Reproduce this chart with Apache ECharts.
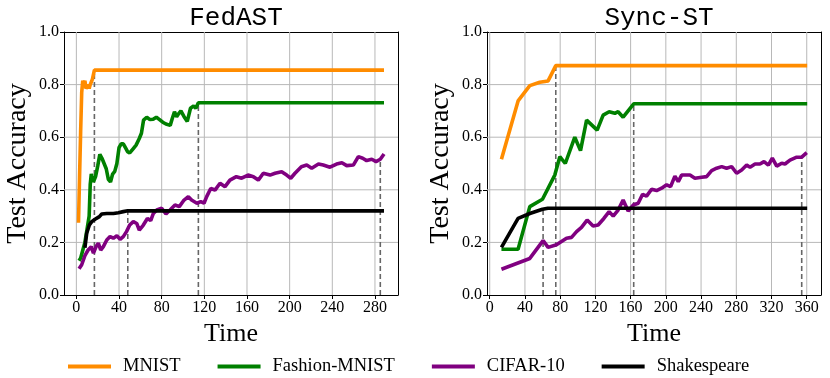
<!DOCTYPE html>
<html>
<head>
<meta charset="utf-8">
<script src="https://cdn.jsdelivr.net/npm/echarts@6.0.0/dist/echarts.min.js"></script>
<style>
html,body{margin:0;padding:0;background:#fff;}
#chart{width:830px;height:378px;}
</style>
</head>
<body>
<div id="chart"></div>
<script>
// ---------- data ----------
const panelTitles = ['FedAST', 'Sync-ST'];
const seriesNames = ['MNIST', 'Fashion-MNIST', 'CIFAR-10', 'Shakespeare'];
const seriesColors = ['#ff8c00', '#008000', '#800080', '#000000'];
const xTicksLeft = [0, 40, 80, 120, 160, 200, 240, 280];
const xTicksRight = [0, 40, 80, 120, 160, 200, 240, 280, 320, 360];
const yTicks = [0, 0.2, 0.4, 0.6, 0.8, 1.0];

// FedAST panel: [time, accuracy]
const fedMnist = [[2,0.275],[3,0.45],[4,0.62],[5,0.77],[6,0.815],[7,0.80],[8,0.815],[9,0.785],[10,0.79],[11,0.80],[12,0.785],[13,0.80],[14,0.81],[15,0.82],[16,0.825],[16.9,0.855],[288.5,0.855]];
const fedFashion = [[2.5,0.13],[4,0.14],[6,0.17],[8,0.2],[10,0.25],[12,0.30],[13,0.42],[14,0.46],[16,0.43],[18,0.45],[20,0.49],[22,0.535],[24,0.52],[26,0.50],[28,0.48],[30,0.44],[32,0.43],[34,0.46],[36,0.47],[38,0.50],[40,0.56],[42,0.575],[44,0.575],[46,0.56],[48,0.545],[50,0.54],[53,0.555],[56,0.57],[59,0.595],[61,0.615],[63,0.665],[66,0.676],[69,0.667],[72,0.668],[75,0.676],[78,0.667],[81,0.657],[84,0.65],[88,0.645],[90,0.672],[92,0.697],[94,0.678],[96,0.69],[98,0.70],[101,0.678],[104,0.66],[107,0.71],[110,0.719],[112,0.71],[114.4,0.731],[288.5,0.731]];
const fedCifar = [[2.5,0.10],[5,0.115],[8,0.15],[11,0.171],[14,0.184],[16,0.159],[18.5,0.184],[20.6,0.197],[22.8,0.171],[25.3,0.184],[28.5,0.209],[31.6,0.222],[34.7,0.216],[38,0.225],[41,0.212],[44,0.222],[47,0.241],[50,0.266],[53.4,0.279],[56.6,0.272],[59,0.247],[62.8,0.266],[66.6,0.291],[69.7,0.283],[72.2,0.31],[75.4,0.323],[80,0.33],[84,0.308],[87.8,0.323],[92.5,0.342],[96.5,0.336],[101,0.361],[105,0.374],[108,0.361],[113,0.349],[116.6,0.355],[119.7,0.349],[122.2,0.374],[126,0.405],[130,0.399],[134.7,0.425],[139.4,0.412],[144,0.437],[150,0.45],[155,0.444],[161,0.456],[166,0.45],[170.6,0.437],[175.3,0.463],[181.6,0.456],[186.3,0.463],[192.5,0.469],[197.2,0.456],[201,0.444],[205,0.463],[211,0.488],[216,0.494],[220.7,0.482],[227,0.498],[231.5,0.494],[237.8,0.486],[244,0.498],[249,0.503],[253.5,0.492],[259.7,0.494],[264.4,0.526],[268.5,0.52],[272.2,0.511],[277,0.516],[281,0.507],[285,0.516],[288.5,0.536]];
const fedShakespeare = [[8,0.18],[9.7,0.235],[12.2,0.266],[14.4,0.279],[17.5,0.288],[21.6,0.298],[23.8,0.308],[28.5,0.31],[34.7,0.31],[39.4,0.313],[44,0.317],[48.2,0.32],[288.5,0.32]];
// convergence markers (dashed verticals): [time, accuracy]
const fedMarks = [[16.9,0.855],[114.4,0.731],[285,0.516],[48.2,0.32]];

// Sync-ST panel
const syncMnist = [[13.3,0.516],[32.2,0.738],[45.5,0.796],[56.8,0.809],[66.3,0.814],[75,0.872],[360.5,0.872]];
const syncFashion = [[13.3,0.174],[32.2,0.174],[45.5,0.336],[59.9,0.364],[73.9,0.456],[79.6,0.526],[85.8,0.50],[96.6,0.60],[103.1,0.549],[110,0.665],[122,0.627],[128.8,0.684],[135.6,0.697],[142.1,0.691],[145.8,0.697],[151.5,0.676],[163.5,0.727],[360.5,0.727]];
const syncCifar = [[13.3,0.098],[45.5,0.139],[60.6,0.207],[66.3,0.181],[75.8,0.191],[87.2,0.216],[92.9,0.219],[98.6,0.241],[104.2,0.257],[110.6,0.285],[117.4,0.262],[123.1,0.266],[129.6,0.291],[135.6,0.317],[140.2,0.30],[145.8,0.323],[151.5,0.361],[157.2,0.319],[162.9,0.342],[168.6,0.349],[173.6,0.383],[178.1,0.376],[183.8,0.402],[189.5,0.397],[195.2,0.406],[200.9,0.419],[205.4,0.412],[210.3,0.452],[214.1,0.431],[217.9,0.456],[227.4,0.456],[233,0.444],[240.7,0.448],[246.3,0.45],[252,0.473],[257.7,0.482],[263.4,0.488],[269,0.482],[274.7,0.488],[280.4,0.463],[286.1,0.475],[291.8,0.494],[295.6,0.486],[301.3,0.498],[306.9,0.498],[311.5,0.507],[316.4,0.494],[320.9,0.52],[325.9,0.49],[331.6,0.501],[335.3,0.498],[341,0.513],[348.6,0.524],[354.3,0.524],[360,0.541]];
const syncShakespeare = [[13.3,0.181],[32.2,0.291],[45.5,0.31],[59.9,0.326],[66,0.33],[360.5,0.33]];
const syncMarks = [[75,0.872],[163.5,0.727],[354.3,0.524],[60.6,0.33]];

// ---------- chart ----------
const SERIF = 'Liberation Serif, Times New Roman, serif';
const MONO = 'Courier New, Liberation Mono, monospace';
const GRIDC = '#b8b8b8';
const chart = echarts.init(document.getElementById('chart'), null, {renderer: 'canvas'});

const grids = [
  {left: 64, top: 32, width: 334, height: 263},
  {left: 487, top: 32, width: 334, height: 263}
];
const xRanges = [[-11.6, 301.6], [-3.1, 376.2]];
const xTickSets = [xTicksLeft, xTicksRight];

function makeX(i) {
  return {
    type: 'value', gridIndex: i, min: xRanges[i][0], max: xRanges[i][1], position: 'bottom',
    name: 'Time', nameLocation: 'middle', nameGap: 26,
    nameTextStyle: {fontFamily: SERIF, fontSize: 26, color: '#000'},
    axisLine: {show: true, onZero: false, lineStyle: {color: '#000', width: 1}},
    axisTick: {show: true, length: 4, lineStyle: {color: '#000'}, customValues: xTickSets[i]},
    axisLabel: {customValues: xTickSets[i], fontFamily: SERIF, fontSize: 16, color: '#000', margin: 5},
    splitLine: {show: false}
  };
}
function makeXTop(i) {
  return {
    type: 'value', gridIndex: i, min: xRanges[i][0], max: xRanges[i][1], position: 'top',
    axisLine: {show: true, onZero: false, lineStyle: {color: '#000', width: 1}},
    axisTick: {show: false}, axisLabel: {show: false}, splitLine: {show: false}
  };
}
function makeY(i) {
  return {
    type: 'value', gridIndex: i, min: 0, max: 1, interval: 0.2, position: 'left',
    name: 'Test Accuracy', nameLocation: 'middle', nameGap: 32,
    nameTextStyle: {fontFamily: SERIF, fontSize: 28, color: '#000'},
    axisLine: {show: true, onZero: false, lineStyle: {color: '#000', width: 1}},
    axisTick: {show: true, length: 4, lineStyle: {color: '#000'}},
    axisLabel: {fontFamily: SERIF, fontSize: 16, color: '#000', margin: 5,
      formatter: v => v.toFixed(1)},
    splitLine: {show: false}
  };
}
function makeYRight(i) {
  return {
    type: 'value', gridIndex: i, min: 0, max: 1, position: 'right',
    axisLine: {show: true, onZero: false, lineStyle: {color: '#000', width: 1}},
    axisTick: {show: false}, axisLabel: {show: false}, splitLine: {show: false}
  };
}

const panelData = [
  [fedMnist, fedFashion, fedCifar, fedShakespeare],
  [syncMnist, syncFashion, syncCifar, syncShakespeare]
];
const panelMarks = [fedMarks, syncMarks];

const series = [];
for (let p = 0; p < 2; p++) {
  // gridlines, drawn through the axis scales
  const gl = {type: 'line', xAxisIndex: p * 2, yAxisIndex: p * 2, silent: true, z: 0,
    showSymbol: false, symbol: 'none', animation: false, emphasis: {disabled: true},
    lineStyle: {color: GRIDC, width: 1}};
  xTickSets[p].forEach(v => series.push(Object.assign({}, gl, {data: [[v, 0], [v, 1]]})));
  yTicks.slice(1, -1).forEach(v => series.push(Object.assign({}, gl,
    {data: [[xRanges[p][0], v], [xRanges[p][1], v]]})));
  panelMarks[p].forEach(m => {
    series.push({
      type: 'line', xAxisIndex: p * 2, yAxisIndex: p * 2, silent: true,
      data: [[m[0], 0], [m[0], m[1]]], showSymbol: false, symbol: 'none', z: 1,
      lineStyle: {color: '#666666', width: 1.6, type: [5, 3]},
      animation: false
    });
  });
  panelData[p].forEach((d, k) => {
    series.push({
      name: seriesNames[k], type: 'line', xAxisIndex: p * 2, yAxisIndex: p * 2,
      data: d, showSymbol: false, symbol: 'none', z: 3,
      color: seriesColors[k],
      lineStyle: {color: seriesColors[k], width: 3.6},
      emphasis: {disabled: true},
      animation: false
    });
  });
}

chart.setOption({
  backgroundColor: '#fff',
  animation: false,
  title: panelTitles.map((t, i) => ({
    text: t, left: i === 0 ? 231 : 654, top: 0, textAlign: 'center',
    textStyle: {fontFamily: MONO, fontSize: 26, fontWeight: 'normal', color: '#000'}
  })),
  legend: {
    data: seriesNames, left: 68, top: 357, padding: 0, icon: 'rect',
    itemWidth: 43, itemHeight: 4, itemGap: 37,
    textStyle: {fontFamily: SERIF, fontSize: 18.5, color: '#000', padding: [0, 0, 0, 7]}
  },
  grid: grids.map(g => Object.assign({show: false, containLabel: false}, g)),
  xAxis: [makeX(0), makeXTop(0), makeX(1), makeXTop(1)],
  yAxis: [makeY(0), makeYRight(0), makeY(1), makeYRight(1)],
  series: series
});
</script>
</body>
</html>
